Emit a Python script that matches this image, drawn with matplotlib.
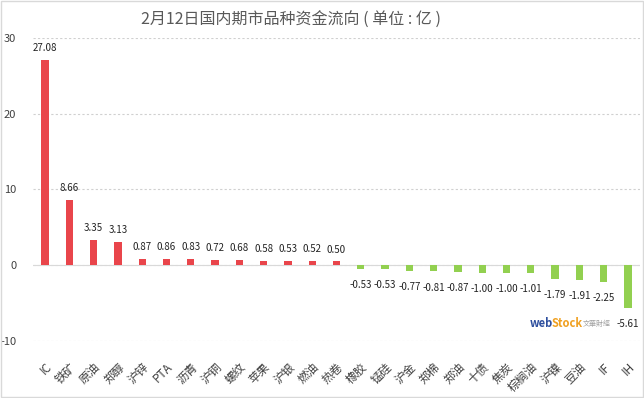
import matplotlib.pyplot as plt
from matplotlib.patches import Rectangle

plt.rcParams['font.family'] = ['Noto Sans CJK SC', 'DejaVu Sans']

# --- data ---
names = ['IC', '铁矿', '原油', '郑醇', '沪锌', 'PTA', '沥青', '沪铜', '螺纹', '苹果',
         '沪银', '燃油', '热卷', '橡胶', '锰硅', '沪金', '郑棉', '郑油', '十债', '焦炭',
         '棕榈油', '沪镍', '豆油', 'IF', 'IH']
flows = [27.08, 8.66, 3.35, 3.13, 0.87, 0.86, 0.83, 0.72, 0.68, 0.58,
         0.53, 0.52, 0.50, -0.53, -0.53, -0.77, -0.81, -0.87, -1.00, -1.00,
         -1.01, -1.79, -1.91, -2.25, -5.61]
yticks = [-10, 0, 10, 20, 30]

red = '#E9454B'
green = '#92D050'
colors = [red if v >= 0 else green for v in flows]

fig = plt.figure(figsize=(6.44, 3.98), dpi=100)
ax = fig.add_axes([0.051, 0.143, 0.943, 0.762])

x = list(range(len(names)))
ax.bar(x, flows, width=0.3, color=colors, zorder=3)

for xi, v in zip(x, flows):
    if v >= 0:
        ax.annotate(f'{v:.2f}', (xi, v), xytext=(0, 5), textcoords='offset points',
                    ha='center', va='bottom', fontsize=7, color='#222222')
    else:
        ax.annotate(f'{v:.2f}', (xi, v), xytext=(0, -8), textcoords='offset points',
                    ha='center', va='top', fontsize=7, color='#222222')

ax.set_xlim(-0.5, len(names) - 0.5)
ax.set_ylim(-10, 30)
ax.set_yticks(yticks)
ax.set_yticklabels([str(t) for t in yticks], fontsize=8, color='#404040')
ax.set_xticks(x)
ax.set_xticklabels(names, rotation=45, ha='right', rotation_mode='anchor',
                   fontsize=8.5, color='#404040')
ax.tick_params(axis='both', length=0)
ax.tick_params(axis='x', pad=14)
ax.tick_params(axis='y', pad=12)

ax.grid(axis='y', color='#D0D0D0', linestyle=(0, (2, 2)), linewidth=0.8, zorder=0)
ax.axhline(0, color='#D9D9D9', linewidth=0.8, zorder=2)
for s in ax.spines.values():
    s.set_visible(False)

fig.text(0.452, 0.948, '2月12日国内期市品种资金流向 ( 单位 : 亿 )', ha='center', va='center',
         fontsize=11.5, color='#595959')

# watermark
fig.text(0.822, 0.188, 'web', fontsize=8, fontweight='bold', color='#2E4F9E', ha='left', va='center')
fig.text(0.856, 0.188, 'Stock', fontsize=8, fontweight='bold', color='#F0A020', ha='left', va='center')
fig.text(0.905, 0.186, '文華財經', fontsize=5, color='#A0A0A0', ha='left', va='center')

fig.patches.append(Rectangle((0.001, 0.002), 0.997, 0.995, transform=fig.transFigure,
                             fill=False, edgecolor='#D9D9D9', linewidth=1))

fig.savefig('out.png', dpi=100)
plt.close(fig)
